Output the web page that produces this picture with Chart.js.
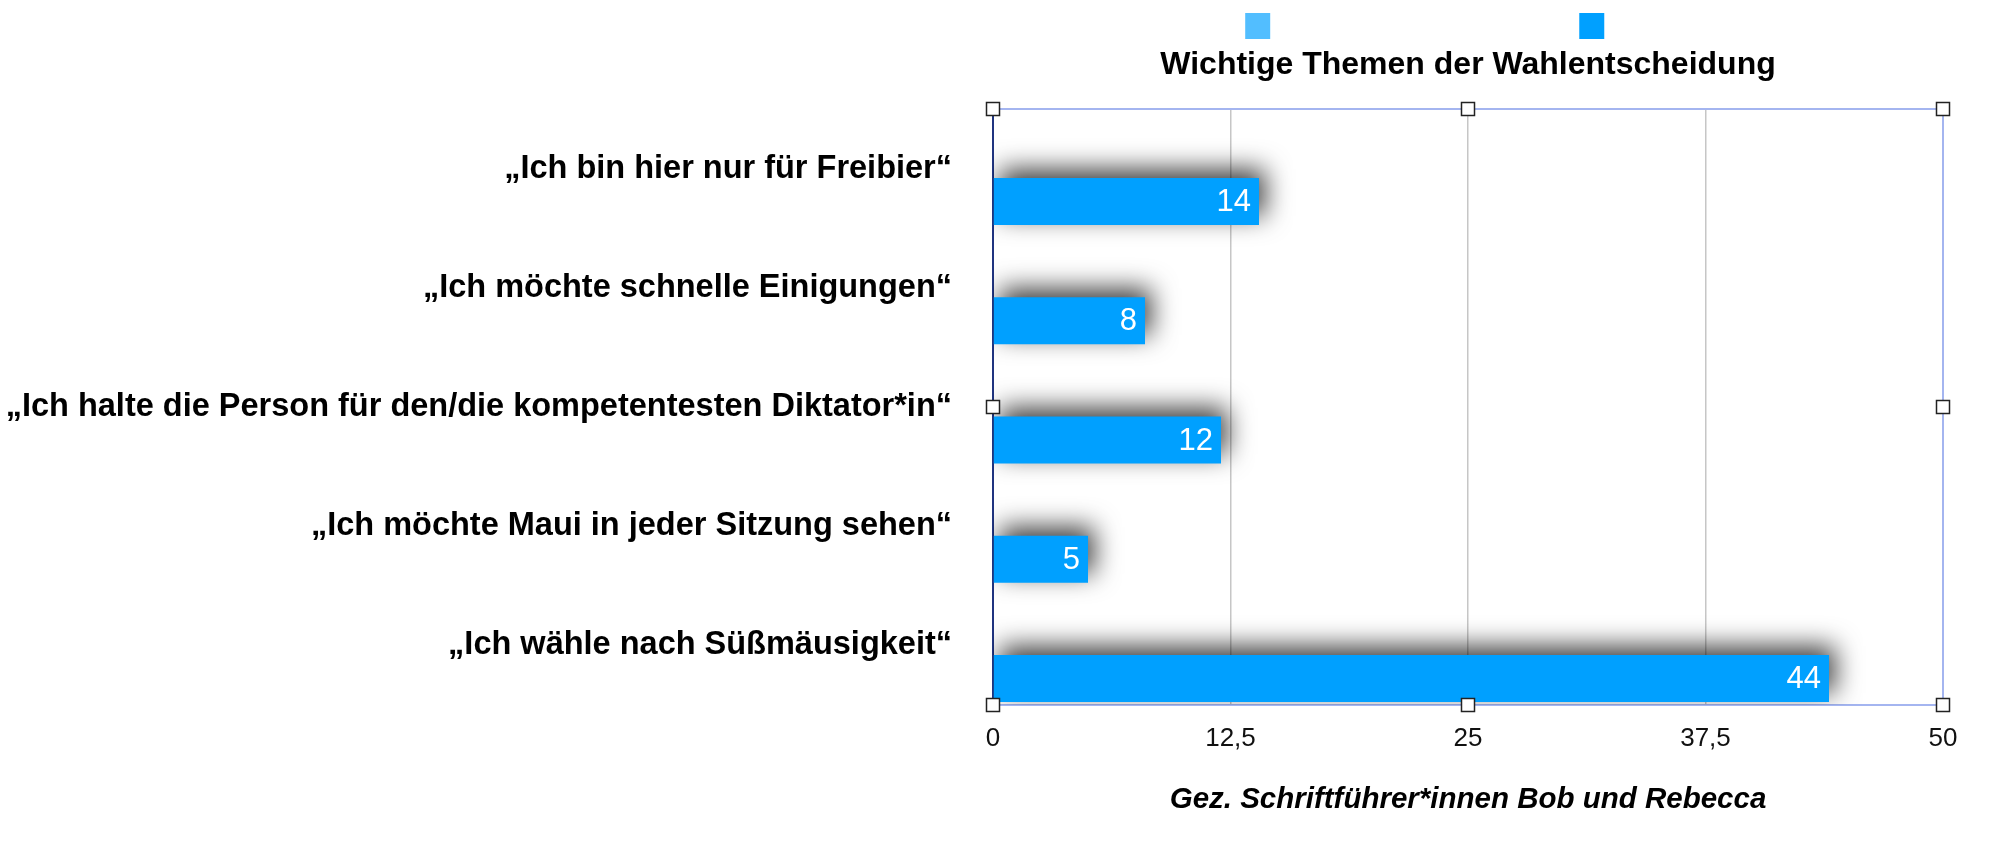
<!DOCTYPE html>
<html>
<head>
<meta charset="utf-8">
<title>Wichtige Themen der Wahlentscheidung</title>
<script src="https://cdn.jsdelivr.net/npm/chart.js@4.4.1/dist/chart.umd.min.js"></script>
<style>
  html, body { margin: 0; padding: 0; background: #fff; }
  #wrap { width: 2000px; height: 841px; }
</style>
</head>
<body>
<div id="wrap"><canvas id="myChart"></canvas></div>
<script>
// data
const categories = [
  '„Ich bin hier nur für Freibier“',
  '„Ich möchte schnelle Einigungen“',
  '„Ich halte die Person für den/die kompetentesten Diktator*in“',
  '„Ich möchte Maui in jeder Sitzung sehen“',
  '„Ich wähle nach Süßmäusigkeit“'
];
const votes = [14, 8, 12, 5, 44];
const emptySeries = []; // light blue legend entry has no bars
const xTickLabels = ['0', '12,5', '25', '37,5', '50'];
const chartTitle = 'Wichtige Themen der Wahlentscheidung';
const footnote = 'Gez. Schriftführer*innen Bob und Rebecca';

const COLORS = {
  light: 'rgb(82, 190, 255)',
  bar: 'rgb(0, 160, 255)',
  frame: 'rgb(164, 181, 240)',
  axis: 'rgb(32, 52, 128)',
  grid: 'rgb(198, 198, 198)'
};

Chart.defaults.font.family = "'Liberation Sans', Arial, Helvetica, sans-serif";

// soft drop shadow under the bars
const barShadow = {
  id: 'barShadow',
  beforeDatasetDraw(chart, args) {
    if (args.index !== 1) return;
    const ctx = chart.ctx;
    ctx.save();
    ctx.shadowColor = 'rgba(0,0,0,0.75)';
    ctx.shadowBlur = 26;
    ctx.shadowOffsetX = 6;
    ctx.shadowOffsetY = -9;
  },
  afterDatasetDraw(chart, args) {
    if (args.index !== 1) return;
    chart.ctx.restore();
  }
};

// white numbers inside the bar ends
const valueLabels = {
  id: 'valueLabels',
  afterDatasetsDraw(chart) {
    const meta = chart.getDatasetMeta(1);
    const ctx = chart.ctx;
    ctx.save();
    ctx.font = "31px 'Liberation Sans', Arial, sans-serif";
    ctx.fillStyle = '#fff';
    ctx.textAlign = 'right';
    ctx.textBaseline = 'middle';
    meta.data.forEach((bar, i) => {
      ctx.fillText(String(votes[i]), bar.x - 8, bar.y + 1);
    });
    ctx.restore();
  }
};

// selection handles round the plot frame
const frameHandles = {
  id: 'frameHandles',
  afterDraw(chart) {
    const {left, right, top, bottom} = chart.chartArea;
    const xs = [left, (left + right) / 2, right];
    const ys = [top, (top + bottom) / 2, bottom];
    const ctx = chart.ctx;
    ctx.save();
    ctx.fillStyle = '#fff';
    ctx.strokeStyle = '#222';
    ctx.lineWidth = 1.5;
    ys.forEach((y, r) => {
      xs.forEach((x, c) => {
        if (r === 1 && c === 1) return;
        ctx.fillRect(x - 6.5, y - 6.5, 13, 13);
        ctx.strokeRect(x - 6.5, y - 6.5, 13, 13);
      });
    });
    ctx.restore();
  }
};

const data = {
  labels: categories,
  datasets: [
    { label: '', data: emptySeries, backgroundColor: COLORS.light, xAxisID: 'x', yAxisID: 'y',
      categoryPercentage: 1.107, barPercentage: 0.712 },
    { label: '', data: votes, backgroundColor: COLORS.bar, xAxisID: 'x', yAxisID: 'y',
      categoryPercentage: 1.107, barPercentage: 0.712 }
  ]
};

const config = {
  type: 'bar',
  data: data,
  plugins: [barShadow, valueLabels, frameHandles],
  options: {
    indexAxis: 'y',
    responsive: true,
    maintainAspectRatio: false,
    animation: false,
    layout: { padding: 0 },
    plugins: {
      tooltip: { enabled: false },
      legend: {
        position: 'top',
        align: 'end',
        labels: {
          boxWidth: 25,
          boxHeight: 26,
          padding: 13,
          font: { size: 12 },
          generateLabels(chart) {
            return chart.data.datasets.map((ds, i) => ({
              text: ' '.repeat(i === 0 ? 87 : 113),
              fillStyle: ds.backgroundColor,
              strokeStyle: ds.backgroundColor,
              lineWidth: 0,
              hidden: false,
              datasetIndex: i
            }));
          }
        }
      }
    },
    scales: {
      x: {
        type: 'linear',
        position: 'bottom',
        min: 0,
        max: 50,
        ticks: {
          stepSize: 12.5,
          padding: 18,
          color: '#111',
          font: { size: 26 },
          callback: (v, i) => xTickLabels[i]
        },
        grid: {
          drawTicks: false,
          lineWidth: 1.5,
          color: c => (c.tick && (c.tick.value === 0 || c.tick.value === 50)) ? 'rgba(0,0,0,0)' : COLORS.grid
        },
        border: { color: COLORS.frame, width: 2 },
        title: {
          display: true,
          text: footnote,
          color: '#000',
          font: { size: 29.5, weight: 'bold', style: 'italic' },
          padding: { top: 0, bottom: 23 }
        },
        afterFit: s => { s.height = 136; }
      },
      x2: {
        type: 'linear',
        position: 'top',
        min: 0,
        max: 50,
        ticks: { display: false },
        grid: { display: false, drawTicks: false },
        border: { color: COLORS.frame, width: 2 },
        title: {
          display: true,
          text: chartTitle,
          color: '#000',
          font: { size: 32, weight: 'bold', lineHeight: 1 },
          padding: { top: 0, bottom: 0 }
        },
        afterFit: s => { s.height = 60; }
      },
      y: {
        type: 'category',
        position: 'left',
        ticks: { padding: 41, color: '#000', font: { size: 32.5, weight: 'bold' } },
        grid: { display: false, drawTicks: false },
        border: { color: COLORS.axis, width: 2 },
        afterFit: s => { s.width = 993; }
      },
      y2: {
        type: 'category',
        position: 'right',
        ticks: { display: false },
        grid: { display: false, drawTicks: false },
        border: { color: COLORS.frame, width: 2 },
        afterFit: s => { s.width = 57; }
      }
    }
  }
};

const myChart = new Chart(document.getElementById('myChart'), config);
</script>
</body>
</html>
